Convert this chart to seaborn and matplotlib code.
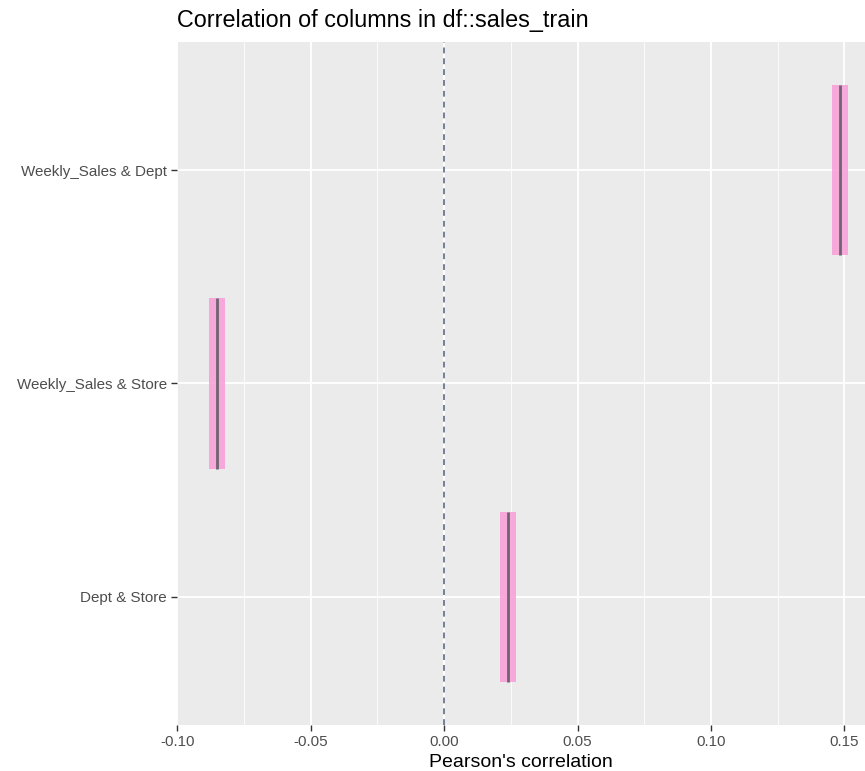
import matplotlib
matplotlib.use("Agg")
import matplotlib.pyplot as plt
import seaborn as sns
import numpy as np
from matplotlib.ticker import MultipleLocator

# correlation estimates with confidence bounds
pairs = ["Weekly_Sales & Dept", "Weekly_Sales & Store", "Dept & Store"]
estimate = [0.1483, -0.0851, 0.0241]
ci_low = [0.1454, -0.0880, 0.0211]
ci_high = [0.1513, -0.0820, 0.0271]
xtick_vals = [-0.10, -0.05, 0.00, 0.05, 0.10, 0.15]

sns.set_theme(style="darkgrid")
plt.rcParams["font.family"] = ["Liberation Sans", "DejaVu Sans"]

fig = plt.figure(figsize=(8.65, 7.71), dpi=100)
ax = fig.add_axes([0.205, 0.0597, 0.795, 0.8858])
ax.set_facecolor("#EBEBEB")

ypos = np.arange(len(pairs))
widths = np.array(ci_high) - np.array(ci_low)
ax.barh(ypos, widths, left=ci_low, height=0.8, color="#F7A1D8", alpha=0.9,
        edgecolor="none", zorder=3)
ax.vlines(estimate, ypos - 0.4, ypos + 0.4, color="#6e6470", lw=2, zorder=4)
ax.axvline(0, color="#5d6a86", lw=1.2, ls=(0, (3.5, 3)), zorder=2)

ax.set_xlim(-0.10, 0.1577)
ax.set_ylim(2.6, -0.6)
ax.set_yticks(ypos)
ax.set_yticklabels(pairs)
ax.set_xticks(xtick_vals)
ax.set_xticklabels([f"{v:.2f}" for v in xtick_vals])
ax.xaxis.set_minor_locator(MultipleLocator(0.025))

ax.grid(which="major", color="white", lw=1.3)
ax.grid(which="minor", axis="x", color="white", lw=0.6)
ax.tick_params(which="major", bottom=True, left=True, length=4.5, width=1,
               color="#333333", labelsize=10.9, labelcolor="#4D4D4D", pad=3)
ax.tick_params(which="minor", length=0)
for s in ax.spines.values():
    s.set_visible(False)

ax.set_xlabel("Pearson's correlation", fontsize=14, color="black", labelpad=3)
ax.set_ylabel("")
ax.set_title("Correlation of columns in df::sales_train", loc="left",
             fontsize=16.8, color="black", pad=10.8)

fig.savefig("out.png", dpi=100)
